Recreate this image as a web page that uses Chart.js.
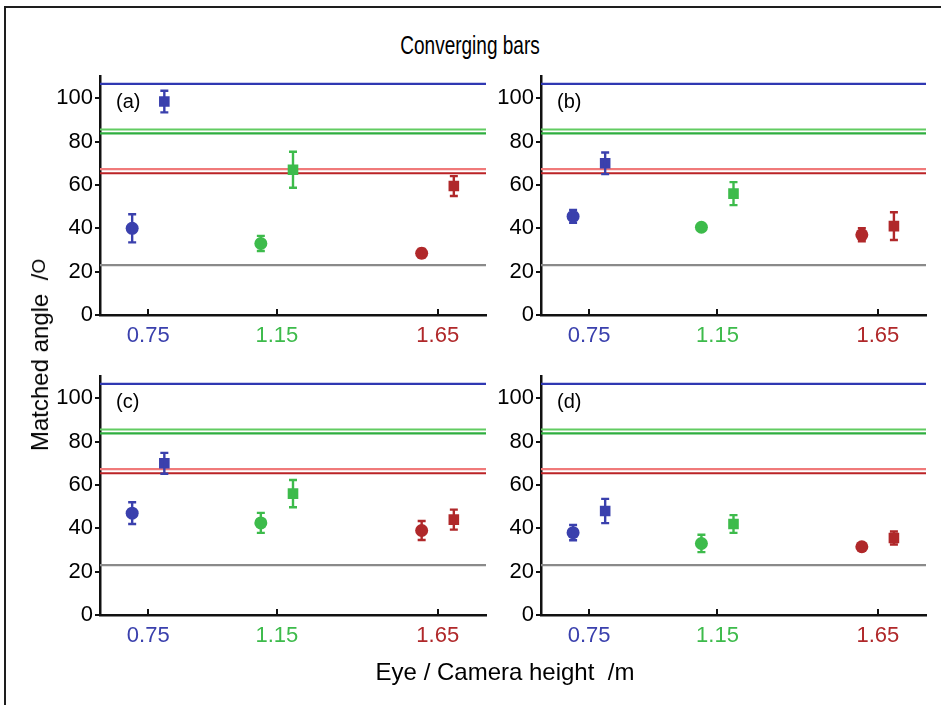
<!DOCTYPE html>
<html>
<head>
<meta charset="utf-8">
<script src="https://cdn.jsdelivr.net/npm/chart.js@4.4.1/dist/chart.umd.min.js"></script>
<style>
  html, body { margin: 0; padding: 0; background: #fff; }
  #fig { position: relative; width: 941px; height: 705px; overflow: hidden; background: #fff;
         font-family: "Liberation Sans", Arial, sans-serif; color: #000; }
  #frame { position: absolute; left: 4px; top: 6px; width: 960px; height: 720px;
           border-top: 2.4px solid #1e1e1e; border-left: 2.4px solid #1e1e1e; }
  canvas { position: absolute; }
  .title { position: absolute; left: 470px; top: 45px; transform: translate(-50%, -50%) scaleX(0.76);
           font-size: 25px; line-height: 30px; white-space: pre; }
  .xtitle { position: absolute; left: 505px; top: 672px; transform: translate(-50%, -50%);
            font-size: 24px; white-space: pre; line-height: 28px; }
  .ytitle { position: absolute; left: 41px; top: 355px; transform: translate(-50%, -50%) rotate(-90deg);
            font-size: 24px; white-space: pre; line-height: 28px; }
  .ytitle span { font-size: 19px; position: relative; top: -3px; }
</style>
</head>
<body>
<div id="fig">
  <div id="frame"></div>
  <div class="title">Converging bars</div>
  <canvas id="pa" width="470" height="304" style="left:30px;top:56px"></canvas>
  <canvas id="pb" width="470" height="304" style="left:471px;top:56px"></canvas>
  <canvas id="pc" width="470" height="304" style="left:30px;top:356px"></canvas>
  <canvas id="pd" width="470" height="304" style="left:471px;top:356px"></canvas>
  <div class="xtitle">Eye / Camera height  /m</div>
  <div class="ytitle">Matched angle  /<span>O</span></div>
</div>
<script>
// Eye / camera heights (m) and their tick labels
const heights = [0.75, 1.15, 1.65];
const heightLabels = ['0.75', '1.15', '1.65'];
const yTicks = [0, 20, 40, 60, 80, 100];
const panelTags = ['(a)', '(b)', '(c)', '(d)'];

// Horizontal side-shift of the two conditions around each height
const circleShift = -0.05;
const squareShift = 0.05;

// Matched angles (deg): circles and squares, with error half-widths
const circA = [40, 33, 28.5],   circErrA = [6.5, 3.5, 2];
const sqA   = [98.5, 67, 59.5], sqErrA   = [5, 8.3, 4.6];
const circB = [45.5, 40.5, 37], circErrB = [3, 1.5, 3];
const sqB   = [70, 56, 41],     sqErrB   = [5, 5.3, 6.4];
const circC = [47, 42.5, 39],   circErrC = [5, 4.6, 4.4];
const sqC   = [70, 56, 44],     sqErrC   = [4.8, 6.3, 4.6];
const circD = [38, 33, 31.5],   circErrD = [3.5, 4, 1.5];
const sqD   = [48, 42, 35.5],   sqErrD   = [5.6, 4.1, 3];

// Reference angles drawn as horizontal lines
const refAngles = [106.6, 85.6, 83.8, 67.3, 65.4, 23];

// ---- styling ----
const FONT = '"Liberation Sans", Arial, sans-serif';
const heightColors = ['#3a40ad', '#3dbb4b', '#b0282a'];
const refColors = ['#2f38b2', '#62cc62', '#2fae3f', '#f07a7a', '#bb2326', '#8a8a8a'];
const X_MIN = 0.6, X_MAX = 1.8, Y_MIN = 0, Y_MAX = 110;

const errorBars = {
  id: 'errorBars',
  afterDatasetsDraw(chart) {
    const { ctx, scales: { x, y } } = chart;
    chart.data.datasets.forEach(ds => {
      if (!ds.errors) return;
      ds.data.forEach((p, i) => {
        const px = x.getPixelForValue(p.x);
        const top = y.getPixelForValue(p.y + ds.errors[i]);
        const bot = y.getPixelForValue(p.y - ds.errors[i]);
        ctx.save();
        ctx.strokeStyle = ds.pointBackgroundColor[i];
        ctx.lineWidth = 2.4;
        ctx.beginPath();
        ctx.moveTo(px, top); ctx.lineTo(px, bot);
        ctx.moveTo(px - 4, top); ctx.lineTo(px + 4, top);
        ctx.moveTo(px - 4, bot); ctx.lineTo(px + 4, bot);
        ctx.stroke();
        ctx.restore();
      });
    });
  }
};

// x-axis tick marks pointing into the plot, plus the panel letter
const panelDecor = {
  id: 'panelDecor',
  afterDraw(chart, args, opts) {
    const { ctx, chartArea, scales: { x } } = chart;
    ctx.save();
    ctx.strokeStyle = '#111';
    ctx.lineWidth = 2;
    x.ticks.forEach(t => {
      const px = Math.round(x.getPixelForValue(t.value));
      ctx.beginPath();
      ctx.moveTo(px, chartArea.bottom);
      ctx.lineTo(px, chartArea.bottom - 6);
      ctx.stroke();
    });
    ctx.fillStyle = '#000';
    ctx.font = '20px ' + FONT;
    ctx.textBaseline = 'middle';
    ctx.textAlign = 'left';
    ctx.fillText(opts.tag, chartArea.left + 16, chartArea.top + 26);
    ctx.restore();
  }
};

function makePanel(id, tag, circ, circErr, sq, sqErr, padRight, padTop) {
  const refSets = refAngles.map((v, i) => ({
    type: 'line',
    data: [{ x: X_MIN, y: v }, { x: X_MAX, y: v }],
    borderColor: refColors[i],
    borderWidth: 2.2,
    pointRadius: 0,
    order: 10
  }));
  const circSet = {
    type: 'scatter',
    data: heights.map((h, i) => ({ x: h + circleShift, y: circ[i] })),
    errors: circErr,
    pointStyle: 'circle',
    pointRadius: 6.5,
    pointBorderWidth: 0,
    pointBackgroundColor: heightColors,
    order: 0
  };
  const sqSet = {
    type: 'scatter',
    data: heights.map((h, i) => ({ x: h + squareShift, y: sq[i] })),
    errors: sqErr,
    pointStyle: 'rect',
    pointRadius: 7.5,
    pointBorderWidth: 0,
    pointBackgroundColor: heightColors,
    order: 0
  };
  new Chart(document.getElementById(id), {
    type: 'scatter',
    data: { datasets: [...refSets, circSet, sqSet] },
    options: {
      responsive: false,
      animation: false,
      devicePixelRatio: 1,
      layout: { padding: { left: 0, right: padRight, top: padTop, bottom: 0 } },
      plugins: { legend: { display: false }, tooltip: { enabled: false }, panelDecor: { tag } },
      scales: {
        x: {
          type: 'linear', min: X_MIN, max: X_MAX,
          afterBuildTicks: s => { s.ticks = heights.map(v => ({ value: v })); },
          afterFit: s => { s.height = 45; },
          grid: { drawOnChartArea: false, drawTicks: false },
          border: { display: true, color: '#111', width: 2.5 },
          ticks: {
            padding: 8, autoSkip: false, maxRotation: 0,
            color: c => heightColors[c.index],
            font: { size: 22, family: FONT },
            callback: (v, i) => heightLabels[i]
          }
        },
        y: {
          min: Y_MIN, max: Y_MAX,
          afterBuildTicks: s => { s.ticks = yTicks.map(v => ({ value: v })); },
          afterFit: s => { s.width = 70; },
          grid: { drawOnChartArea: false, drawTicks: true, tickLength: 5, color: '#111', lineWidth: 2 },
          border: { display: true, color: '#111', width: 2.5 },
          ticks: { padding: 2, color: '#000', font: { size: 22, family: FONT } }
        }
      }
    },
    plugins: [errorBars, panelDecor]
  });
}

makePanel('pa', panelTags[0], circA, circErrA, sqA, sqErrA, 14, 20.6);
makePanel('pb', panelTags[1], circB, circErrB, sqB, sqErrB, 15, 20.6);
makePanel('pc', panelTags[2], circC, circErrC, sqC, sqErrC, 14, 20.6);
makePanel('pd', panelTags[3], circD, circErrD, sqD, sqErrD, 15, 20.6);
</script>
</body>
</html>
